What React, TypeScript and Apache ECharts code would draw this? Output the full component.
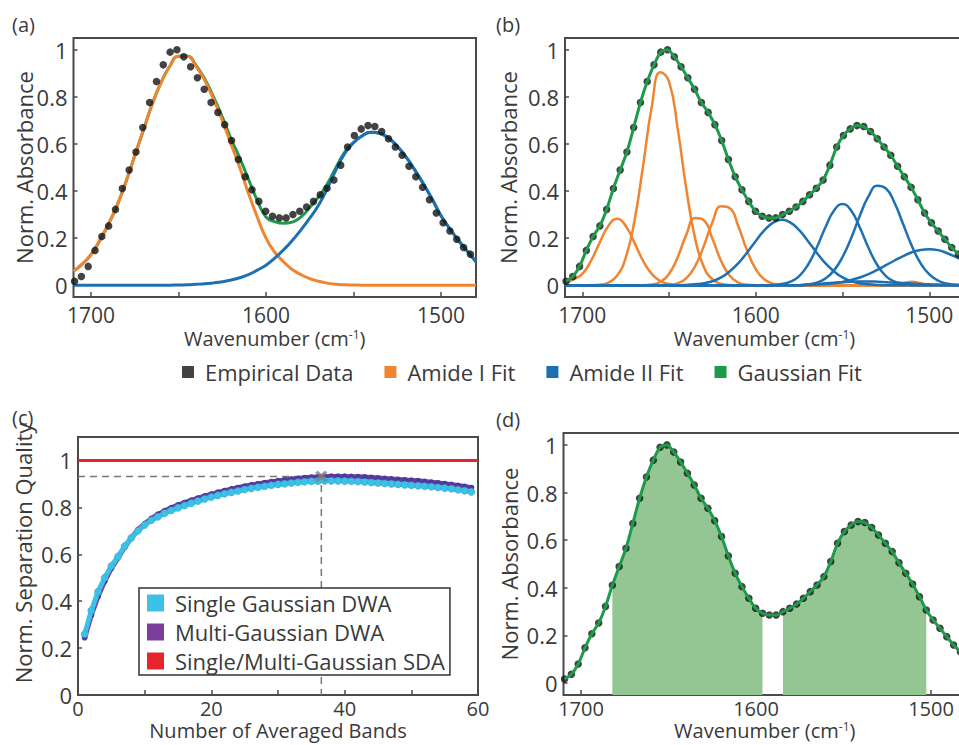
import React, { useEffect, useRef } from "react";
import * as echarts from "echarts";

// ---------- Empirical spectrum (panels a, b, d) ----------
const empWn = [1709.4, 1705.5, 1701.6, 1697.7, 1693.8, 1689.9, 1686.0, 1682.1, 1678.2, 1674.3, 1670.4, 1666.5, 1662.6, 1658.7, 1654.8, 1650.9, 1647.0, 1643.1, 1639.2, 1635.3, 1631.4, 1627.5, 1623.6, 1619.7, 1615.8, 1611.9, 1608.0, 1604.1, 1600.2, 1596.3, 1592.4, 1588.5, 1584.6, 1580.7, 1576.8, 1572.9, 1569.0, 1565.1, 1561.2, 1557.3, 1553.4, 1549.5, 1545.6, 1541.7, 1537.8, 1533.9, 1530.0, 1526.1, 1522.2, 1518.3, 1514.4, 1510.5, 1506.6, 1502.7, 1498.8, 1494.9, 1491.0, 1487.1, 1483.2];
const empAbs = [0.017, 0.037, 0.08, 0.148, 0.207, 0.252, 0.322, 0.411, 0.489, 0.566, 0.67, 0.776, 0.865, 0.936, 0.99, 1.0, 0.97, 0.928, 0.881, 0.832, 0.776, 0.734, 0.682, 0.615, 0.534, 0.461, 0.405, 0.356, 0.314, 0.293, 0.286, 0.286, 0.3, 0.314, 0.332, 0.356, 0.384, 0.412, 0.447, 0.51, 0.587, 0.636, 0.664, 0.678, 0.674, 0.653, 0.622, 0.587, 0.552, 0.505, 0.461, 0.416, 0.363, 0.307, 0.265, 0.23, 0.195, 0.16, 0.132];

// ---------- Fit curves, sampled on a 5 cm-1 grid ----------
const fitWn = [1710, 1705, 1700, 1695, 1690, 1685, 1680, 1675, 1670, 1665, 1660, 1655, 1650, 1645, 1640, 1635, 1630, 1625, 1620, 1615, 1610, 1605, 1600, 1595, 1590, 1585, 1580, 1575, 1570, 1565, 1560, 1555, 1550, 1545, 1540, 1535, 1530, 1525, 1520, 1515, 1510, 1505, 1500, 1495, 1490, 1485, 1480];

// panel (a): single-Gaussian fits
const aAmideI = [0.06, 0.09, 0.13, 0.19, 0.26, 0.34, 0.44, 0.55, 0.66, 0.77, 0.86, 0.93, 0.972, 0.972, 0.93, 0.87, 0.79, 0.70, 0.60, 0.50, 0.39, 0.29, 0.20, 0.14, 0.10, 0.067, 0.045, 0.028, 0.017, 0.009, 0.004, 0.002, 0.001, 0, 0, 0, 0, 0, 0, 0, 0, 0, 0, 0, 0, 0, 0];
const aAmideII = [0, 0, 0, 0, 0, 0, 0, 0, 0, 0, 0, 0, 0.001, 0.002, 0.004, 0.006, 0.010, 0.015, 0.022, 0.032, 0.045, 0.064, 0.085, 0.115, 0.15, 0.19, 0.235, 0.285, 0.34, 0.41, 0.49, 0.56, 0.605, 0.635, 0.65, 0.645, 0.625, 0.59, 0.545, 0.49, 0.43, 0.365, 0.295, 0.24, 0.19, 0.145, 0.10];
const aGaussFit = [0.06, 0.09, 0.13, 0.19, 0.26, 0.34, 0.44, 0.55, 0.66, 0.77, 0.86, 0.93, 0.973, 0.974, 0.934, 0.876, 0.80, 0.715, 0.622, 0.54, 0.45, 0.36, 0.29, 0.27, 0.263, 0.268, 0.29, 0.33, 0.375, 0.43, 0.50, 0.565, 0.606, 0.635, 0.65, 0.645, 0.625, 0.59, 0.545, 0.49, 0.43, 0.365, 0.295, 0.24, 0.19, 0.145, 0.10];

// panel (b): multi-Gaussian components
const bAmideI1 = [0.01, 0.025, 0.048, 0.104, 0.181, 0.252, 0.282, 0.252, 0.181, 0.104, 0.048, 0.0175, 0.005, 0.001, 0, 0, 0, 0, 0, 0, 0, 0, 0, 0, 0, 0, 0, 0, 0, 0, 0, 0, 0, 0, 0, 0, 0, 0, 0, 0, 0, 0, 0, 0, 0, 0, 0];
const bAmideI2 = [0, 0, 0, 0, 0.002, 0.011, 0.040, 0.117, 0.272, 0.507, 0.757, 0.905, 0.865, 0.663, 0.406, 0.199, 0.078, 0.025, 0.006, 0.001, 0, 0, 0, 0, 0, 0, 0, 0, 0, 0, 0, 0, 0, 0, 0, 0, 0, 0, 0, 0, 0, 0, 0, 0, 0, 0, 0];
const bAmideI3 = [0, 0, 0, 0, 0, 0, 0, 0, 0, 0, 0.003, 0.015, 0.049, 0.120, 0.216, 0.285, 0.276, 0.197, 0.103, 0.040, 0.011, 0.002, 0, 0, 0, 0, 0, 0, 0, 0, 0, 0, 0, 0, 0, 0, 0, 0, 0, 0, 0, 0, 0, 0, 0, 0, 0];
const bAmideI4 = [0, 0, 0, 0, 0, 0, 0, 0, 0, 0, 0, 0, 0.002, 0.009, 0.030, 0.081, 0.166, 0.268, 0.335, 0.327, 0.248, 0.147, 0.068, 0.024, 0.007, 0.001, 0, 0, 0, 0, 0, 0, 0, 0, 0, 0, 0, 0, 0, 0, 0, 0, 0, 0, 0, 0, 0];
const bAmideI5 = [0, 0, 0, 0, 0, 0, 0, 0, 0, 0, 0, 0, 0, 0, 0, 0, 0, 0, 0, 0, 0, 0, 0, 0, 0, 0, 0, 0, 0, 0, 0, 0, 0, 0, 0, 0, 0, 0, 0, 0.008, 0.015, 0.008, 0, 0, 0, 0, 0];
const bAmideII1 = [0, 0, 0, 0, 0, 0, 0, 0, 0, 0, 0, 0, 0, 0, 0.0015, 0.004, 0.008, 0.017, 0.033, 0.059, 0.094, 0.139, 0.188, 0.234, 0.266, 0.278, 0.266, 0.234, 0.188, 0.139, 0.094, 0.059, 0.033, 0.017, 0.008, 0.004, 0.0015, 0, 0, 0, 0, 0, 0, 0, 0, 0, 0];
const bAmideII2 = [0, 0, 0, 0, 0, 0, 0, 0, 0, 0, 0, 0, 0, 0, 0, 0, 0, 0, 0, 0, 0, 0, 0, 0, 0.001, 0.005, 0.015, 0.039, 0.086, 0.158, 0.244, 0.316, 0.345, 0.316, 0.244, 0.158, 0.086, 0.039, 0.015, 0.005, 0.001, 0, 0, 0, 0, 0, 0];
const bAmideII3 = [0, 0, 0, 0, 0, 0, 0, 0, 0, 0, 0, 0, 0, 0, 0, 0, 0, 0, 0, 0, 0, 0, 0, 0, 0, 0, 0, 0, 0.004, 0.011, 0.028, 0.062, 0.120, 0.201, 0.296, 0.378, 0.422, 0.411, 0.349, 0.258, 0.166, 0.093, 0.046, 0.020, 0.007, 0.002, 0.001];
const bAmideII4 = [0, 0, 0, 0, 0, 0, 0, 0, 0, 0, 0, 0, 0, 0, 0, 0, 0, 0, 0, 0, 0, 0, 0, 0, 0, 0, 0, 0, 0.001, 0.003, 0.005, 0.008, 0.014, 0.022, 0.033, 0.047, 0.065, 0.085, 0.105, 0.124, 0.140, 0.150, 0.153, 0.149, 0.137, 0.121, 0.101];
const bAmideII5 = [0, 0, 0, 0, 0, 0, 0, 0, 0, 0, 0, 0, 0, 0, 0, 0, 0, 0, 0, 0, 0, 0, 0, 0, 0, 0, 0, 0, 0.003, 0.005, 0.008, 0.011, 0.013, 0.015, 0.016, 0.016, 0.015, 0.013, 0.011, 0.009, 0.007, 0.005, 0.004, 0.003, 0.002, 0.001, 0];

// panel (d): integrated regions
const fillRange1 = [1596, 1684];
const fillRange2 = [1502, 1587];

// ---------- Panel (c) ----------
const bands = [1, 2, 3, 4, 5, 6, 7, 8, 9, 10, 11, 12, 13, 14, 15, 16, 17, 18, 19, 20, 21, 22, 23, 24, 25, 26, 27, 28, 29, 30, 31, 32, 33, 34, 35, 36, 37, 38, 39, 40, 41, 42, 43, 44, 45, 46, 47, 48, 49, 50, 51, 52, 53, 54, 55, 56, 57, 58, 59];
const singleDWA = [0.26, 0.36, 0.44, 0.50, 0.55, 0.59, 0.635, 0.67, 0.70, 0.725, 0.745, 0.76, 0.775, 0.787, 0.798, 0.808, 0.818, 0.827, 0.836, 0.844, 0.851, 0.858, 0.864, 0.870, 0.876, 0.881, 0.886, 0.890, 0.894, 0.898, 0.901, 0.904, 0.907, 0.909, 0.911, 0.912, 0.913, 0.913, 0.913, 0.912, 0.911, 0.910, 0.908, 0.906, 0.904, 0.902, 0.900, 0.898, 0.896, 0.894, 0.892, 0.890, 0.888, 0.885, 0.882, 0.879, 0.875, 0.871, 0.866];
const multiDWA = [0.245, 0.34, 0.42, 0.485, 0.54, 0.585, 0.63, 0.67, 0.705, 0.73, 0.752, 0.77, 0.785, 0.798, 0.81, 0.82, 0.83, 0.839, 0.848, 0.856, 0.864, 0.871, 0.878, 0.884, 0.890, 0.895, 0.900, 0.905, 0.909, 0.913, 0.917, 0.920, 0.923, 0.926, 0.928, 0.930, 0.931, 0.932, 0.932, 0.932, 0.931, 0.930, 0.929, 0.927, 0.925, 0.923, 0.921, 0.919, 0.917, 0.915, 0.913, 0.910, 0.907, 0.904, 0.901, 0.897, 0.893, 0.889, 0.884];
const sdaLevel = 1;
const bandRange = [0, 60];
const optimumBands = 36.5;
const optimumQuality = 0.932;

// ---------- Ticks ----------
const wnTickLabels = [1700, 1600, 1500];
const wnTicks = [1700, 1650, 1600, 1550, 1500];
const absTicks = [0, 0.2, 0.4, 0.6, 0.8, 1];
const bandTickLabels = [0, 20, 40, 60];
const bandTicks = [0, 10, 20, 30, 40, 50, 60];
const qualTicks = [0, 0.2, 0.4, 0.6, 0.8, 1];

// ---------- Styles ----------
const FONT = "'Open Sans', 'DejaVu Sans', sans-serif";
const TXT = "#3a3a3a";
const AX = "#4a4a4a";
const C_DOT = "#141414";
const C_OR = "#EF8431";
const C_BL = "#1D70B3";
const C_GR = "#1E9A4B";
const C_FILL = "#94C693";
const C_CY = "#3EC1E7";
const C_PU = "#7B3D9B";
const C_PU_MK = "#4B3A9C";
const C_RED = "#E4252B";

const pairs = (xs: number[], ys: number[]) => xs.map((x, i) => [x, ys[i]]);
const within = (r: number[]) =>
  empWn.map((x, i) => [x, empAbs[i]]).filter((p) => p[0] >= r[0] && p[0] <= r[1]);
const plain = (v: number) => String(v);

const wnName = "{a|Wavenumber (cm}{s|-1}{a|)}";
const wnNameStyle = {
  rich: {
    a: { fontSize: 20, color: TXT, fontFamily: FONT, lineHeight: 20 },
    s: { fontSize: 12, color: TXT, fontFamily: FONT, verticalAlign: "top", lineHeight: 10 },
  },
};

function wnXAxis(gridIndex: number, nameGap: number, labelFont: number, labelMargin: number) {
  return {
    type: "value",
    gridIndex,
    min: 1480,
    max: 1710,
    inverse: true,
    name: wnName,
    nameLocation: "middle",
    nameGap,
    nameMoveOverlap: false,
    nameTextStyle: wnNameStyle,
    axisLine: { show: false, onZero: false },
    axisTick: { show: true, inside: true, length: 5, customValues: wnTicks, lineStyle: { color: AX, width: 1.5 } },
    axisLabel: { customValues: wnTickLabels, formatter: plain, fontSize: labelFont, lineHeight: labelFont, color: TXT, fontFamily: FONT, margin: labelMargin },
    splitLine: { show: false },
  };
}

function absYAxis(gridIndex: number, nameGap: number) {
  return {
    type: "value",
    gridIndex,
    min: -0.05,
    max: 1.05,
    name: "Norm. Absorbance",
    nameLocation: "middle",
    nameGap,
    nameRotate: 90,
    nameMoveOverlap: false,
    nameTextStyle: { fontSize: 22, color: TXT, fontFamily: FONT },
    axisLine: { show: false, onZero: false },
    axisTick: { show: true, inside: true, length: 4, customValues: absTicks, lineStyle: { color: AX, width: 1.5 } },
    axisLabel: { customValues: absTicks, formatter: plain, fontSize: 22, color: TXT, fontFamily: FONT, margin: 6 },
    splitLine: { show: false },
  };
}

const gridBase = { show: true, borderColor: AX, borderWidth: 2, backgroundColor: "transparent", containLabel: false, outerBoundsMode: "none" };

function lineS(name: string, data: any[], color: string, width: number, xi: number, z: number, extra: any = {}) {
  return {
    type: "line",
    name,
    data,
    xAxisIndex: xi,
    yAxisIndex: xi,
    color,
    smooth: 0.5,
    symbol: "none",
    lineStyle: { color, width },
    z,
    ...extra,
  };
}

function dots(xi: number, size: number, z: number) {
  return {
    type: "scatter",
    name: "Empirical Data",
    data: pairs(empWn, empAbs),
    xAxisIndex: xi,
    yAxisIndex: xi,
    color: C_DOT,
    symbol: "circle",
    symbolSize: size,
    itemStyle: { color: C_DOT },
    z,
  };
}

export default function App() {
  const ref = useRef<HTMLDivElement>(null);
  useEffect(() => {
    if (!ref.current) return;
    const chart = echarts.init(ref.current, undefined, { renderer: "svg" });

    const series: any[] = [];
    // (a)
    series.push(lineS("Gaussian Fit", pairs(fitWn, aGaussFit), C_GR, 3, 0, 2));
    series.push(lineS("Amide I Fit", pairs(fitWn, aAmideI), C_OR, 3, 0, 3));
    series.push(lineS("Amide II Fit", pairs(fitWn, aAmideII), C_BL, 3, 0, 3));
    series.push(dots(0, 7.5, 5));
    // (b)
    [bAmideI1, bAmideI2, bAmideI3, bAmideI4, bAmideI5].forEach((v) =>
      series.push(lineS("Amide I Fit", pairs(fitWn, v), C_OR, 2.5, 1, 2))
    );
    [bAmideII1, bAmideII2, bAmideII3, bAmideII4, bAmideII5].forEach((v) =>
      series.push(lineS("Amide II Fit", pairs(fitWn, v), C_BL, 2.5, 1, 3))
    );
    series.push(dots(1, 7.5, 4));
    series.push(lineS("Gaussian Fit", pairs(empWn, empAbs), C_GR, 3, 1, 5, { smooth: 0.3 }));
    // (c)
    series.push(lineS("Single/Multi-Gaussian SDA", [[bandRange[0], sdaLevel], [bandRange[1], sdaLevel]], C_RED, 3, 2, 2, { smooth: false }));
    series.push(
      lineS(
        "optimum",
        [[bandRange[0], optimumQuality], [optimumBands, optimumQuality], [optimumBands, 0]],
        "#777777",
        1.5,
        2,
        2,
        { smooth: false, lineStyle: { color: "#777777", width: 1.5, type: [7, 5] } }
      )
    );
    series.push(
      lineS("Multi-Gaussian DWA", pairs(bands, multiDWA), C_PU, 5, 2, 3, {
        smooth: false,
        symbol: "circle",
        symbolSize: 6,
        showSymbol: true,
        itemStyle: { color: C_PU_MK },
      })
    );
    series.push(
      lineS("Single Gaussian DWA", pairs(bands, singleDWA), C_CY, 5, 2, 4, {
        smooth: false,
        symbol: "circle",
        symbolSize: 7,
        showSymbol: true,
        itemStyle: { color: C_CY, borderColor: "#34a9d0", borderWidth: 0.6 },
      })
    );
    series.push({
      type: "scatter",
      name: "optimum marker",
      data: [[optimumBands, optimumQuality]],
      xAxisIndex: 2,
      yAxisIndex: 2,
      symbol: "path://M0,2L2,0L5,3L8,0L10,2L7,5L10,8L8,10L5,7L2,10L0,8L3,5Z",
      symbolSize: 12,
      itemStyle: { color: "#808080" },
      z: 6,
    });
    // (d)
    series.push(
      lineS("area1", within(fillRange1), C_FILL, 0, 3, 1, {
        smooth: 0.3,
        lineStyle: { width: 0, color: C_FILL },
        areaStyle: { color: C_FILL, opacity: 1, origin: "start" },
      })
    );
    series.push(
      lineS("area2", within(fillRange2), C_FILL, 0, 3, 1, {
        smooth: 0.3,
        lineStyle: { width: 0, color: C_FILL },
        areaStyle: { color: C_FILL, opacity: 1, origin: "start" },
      })
    );
    series.push(dots(3, 7.5, 4));
    series.push(lineS("Gaussian Fit", pairs(empWn, empAbs), C_GR, 3, 3, 5, { smooth: 0.3 }));

    const option: any = {
      animation: false,
      textStyle: { fontFamily: FONT },
      grid: [
        { ...gridBase, left: 73.5, top: 38, width: 402.5, height: 259 },
        { ...gridBase, left: 565, top: 38, width: 399, height: 259 },
        { ...gridBase, left: 78, top: 437, width: 400, height: 258 },
        { ...gridBase, left: 563.5, top: 433, width: 402.5, height: 262 },
      ],
      xAxis: [
        wnXAxis(0, 31, 21, 7),
        wnXAxis(1, 31, 21, 7),
        {
          type: "value",
          gridIndex: 2,
          min: bandRange[0],
          max: bandRange[1],
          name: "Number of Averaged Bands",
          nameLocation: "middle",
          nameGap: 25,
          nameMoveOverlap: false,
          nameTextStyle: { fontSize: 20, lineHeight: 20, color: TXT, fontFamily: FONT },
          axisLine: { show: false, onZero: false },
          axisTick: { show: true, inside: true, length: 5, customValues: bandTicks, lineStyle: { color: AX, width: 1.5 } },
          axisLabel: { customValues: bandTickLabels, formatter: plain, fontSize: 20, lineHeight: 20, color: TXT, fontFamily: FONT, margin: 3 },
          splitLine: { show: false },
        },
        wnXAxis(3, 25, 20, 3),
      ],
      yAxis: [
        absYAxis(0, 39),
        absYAxis(1, 46),
        {
          type: "value",
          gridIndex: 2,
          min: 0,
          max: 1.1,
          name: "Norm. Separation Quality",
          nameLocation: "middle",
          nameGap: 44,
          nameRotate: 90,
          nameMoveOverlap: false,
          nameTextStyle: { fontSize: 22, color: TXT, fontFamily: FONT, padding: [0, 0, 0, 26] },
          axisLine: { show: false, onZero: false },
          axisTick: { show: true, inside: true, length: 4, customValues: qualTicks, lineStyle: { color: AX, width: 1.5 } },
          axisLabel: { customValues: qualTicks, formatter: plain, fontSize: 22, color: TXT, fontFamily: FONT, margin: 6 },
          splitLine: { show: false },
        },
        absYAxis(3, 44),
      ],
      legend: [
        {
          orient: "horizontal",
          left: 182,
          top: 361,
          padding: 0,
          itemGap: 31,
          itemWidth: 12,
          itemHeight: 12,
          icon: "rect",
          selectedMode: false,
          textStyle: { fontSize: 22, color: TXT, fontFamily: FONT, padding: [0, 0, 0, 6] },
          data: [
            { name: "Empirical Data", itemStyle: { color: C_DOT } },
            { name: "Amide I Fit", itemStyle: { color: C_OR } },
            { name: "Amide II Fit", itemStyle: { color: C_BL } },
            { name: "Gaussian Fit", itemStyle: { color: C_GR } },
          ],
        },
        {
          orient: "vertical",
          left: 139,
          top: 588,
          padding: [3, 5, 2, 8],
          itemGap: 5,
          itemWidth: 17,
          itemHeight: 17,
          icon: "rect",
          selectedMode: false,
          backgroundColor: "#ffffff",
          borderColor: "#333333",
          borderWidth: 1.5,
          z: 10,
          textStyle: { fontSize: 22, color: TXT, fontFamily: FONT, padding: [0, 0, 0, 6], lineHeight: 24 },
          data: [
            { name: "Single Gaussian DWA", itemStyle: { color: C_CY, borderWidth: 0 } },
            { name: "Multi-Gaussian DWA", itemStyle: { color: C_PU, borderWidth: 0 } },
            { name: "Single/Multi-Gaussian SDA", itemStyle: { color: C_RED, borderWidth: 0 } },
          ],
        },
      ],
      graphic: [
        { type: "text", left: 12, top: 14, style: { text: "(a)", fontSize: 20, fill: TXT, fontFamily: FONT } },
        { type: "text", left: 496, top: 14, style: { text: "(b)", fontSize: 20, fill: TXT, fontFamily: FONT } },
        { type: "text", left: 12, top: 407, style: { text: "(c)", fontSize: 20, fill: TXT, fontFamily: FONT } },
        { type: "text", left: 496, top: 409, style: { text: "(d)", fontSize: 20, fill: TXT, fontFamily: FONT } },
      ],
      series,
    };
    chart.setOption(option);
    return () => chart.dispose();
  }, []);
  return (
    <div
      ref={ref}
      style={{ position: "fixed", left: 0, top: 0, width: 959, height: 745, background: "#ffffff" }}
    />
  );
}
